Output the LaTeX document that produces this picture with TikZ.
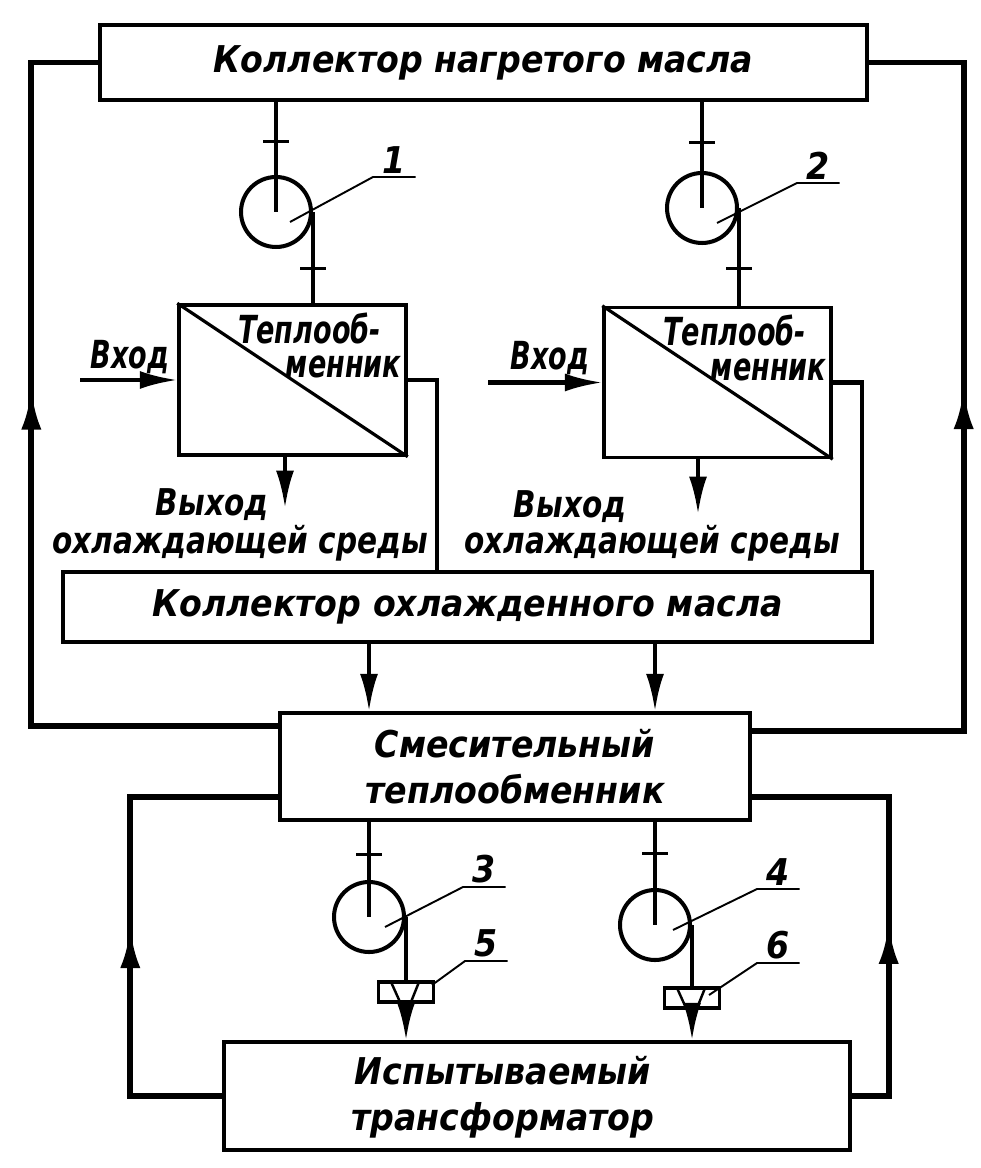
\documentclass[tikz,border=0pt]{standalone}
\usepackage{fontspec}
\setmainfont{DejaVu Sans}
\usetikzlibrary{arrows.meta,calc,decorations.markings}

\begin{document}
\begin{tikzpicture}[
    x=0.02cm, y=-0.02cm,
    >={Latex[length=0.75cm,width=0.36cm]},
    every node/.style={font=\fontsize{21}{26}\selectfont\bfseries\itshape\addfontfeature{FakeStretch=0.9}},
    narrow/.style={font=\fontsize{22}{26}\selectfont\bfseries\itshape\addfontfeature{FakeStretch=0.7}},
    midtext/.style={font=\fontsize{21}{26}\selectfont\bfseries\itshape\addfontfeature{FakeStretch=0.8}},
    box/.style={draw, line width=2pt, inner sep=0pt, align=center},
    pipe/.style={line width=2.3pt},
    loopline/.style={line width=3.4pt},
    leader/.style={line width=1.1pt},
    pump/.style={circle, draw, line width=2.3pt, minimum size=1.4cm, inner sep=0pt},
    valve/.style={draw, fill=white, line width=1.8pt, minimum width=1.1cm, minimum height=0.4cm, inner sep=0pt,
        path picture={\draw[line width=1.4pt]
            ([xshift=-0.3cm]path picture bounding box.north) -- ([xshift=-0.12cm]path picture bounding box.south)
            ([xshift=0.26cm]path picture bounding box.north) -- ([xshift=0.1cm]path picture bounding box.south);}},
    num/.style={anchor=south west, minimum width=0.84cm, inner sep=2pt},
    flow/.style={postaction={decorate}, decoration={markings,
        mark=at position #1 with {\arrow{Latex[length=0.8cm,width=0.4cm]}}}},
    pipetick/.style={postaction={decorate}, decoration={markings,
        mark=at position #1 with {\draw[line width=1.6pt] (0,-0.26cm) -- (0,0.26cm);}}}
]
    \useasboundingbox (0,0) rectangle (980,1168);

    % Draw the collectors and the boxes
    \node[box, minimum width=15.34cm, minimum height=1.5cm] (hot) at (483.5,62.5) {Коллектор нагретого масла};
    \node[box, minimum width=16.18cm, minimum height=1.4cm] (cold) at (467.5,607) {Коллектор охлажденного масла};
    \node[box, minimum width=9.4cm, minimum height=2.14cm] (mix) at (515,766.5) {Смесительный\\теплообменник};
    \node[box, minimum width=12.52cm, minimum height=2.16cm] (trafo) at (537,1096) {};
    \node[align=center] (trafotext) at (503,1097) {Испытываемый\\трансформатор};

    % Draw the heat exchangers
    \foreach \n/\x/\y in {1/292.5/380, 2/717.5/382.5} {
        \node[box, minimum width=4.54cm, minimum height=3cm] (hx\n) at (\x,\y) {};
        \draw[line width=1.8pt] (hx\n.north west) -- (hx\n.south east);
        \node[narrow] (hxa\n) at ($(hx\n)+(17,-52)$) {Теплооб-};
        \node[narrow] (hxb\n) at ($(hx\n)+(51,-13)$) {менник};
    }

    % Inputs and outputs of the cooling medium
    \coordinate (in1) at (80,380);
    \coordinate (in2) at (488,382.5);
    \coordinate (out1) at (285,508);
    \coordinate (out2) at (698,514);
    \node[narrow] (tin1) at (130,357) {Вход};
    \node[narrow] (tin2) at (550,358) {Вход};
    \node[midtext] (tout1) at (212,505) {Выход};
    \node[midtext] (tmed1) at (240,543) {охлаждающей среды};
    \node[midtext] (tout2) at (570,507) {Выход};
    \node[midtext] (tmed2) at (652,543) {охлаждающей среды};
    \foreach \n in {1,2} {
        \draw[pipe,->] (in\n) -- (in\n -| hx\n.west);
        \draw[pipe,->] (hx\n.south -| out\n) -- (out\n);
        \draw[pipe] (hx\n.east) -- ++(29,0) coordinate (c\n) -- (c\n |- cold.north);
    }

    % Draw the pumps
    \foreach \n/\x/\y in {1/276/212, 2/702/208, 3/369/917, 4/655/925}
        \node[pump] (p\n) at (\x,\y) {};

    \draw[pipe, pipetick=0.36] (hot.south -| p1) -- (p1.center);
    \draw[pipe, pipetick=0.38] (hot.south -| p2) -- (p2.center);
    \draw[pipe, pipetick=0.62] (p1.east) -- (p1.east |- hx1.north);
    \draw[pipe, pipetick=0.62] (p2.east) -- (p2.east |- hx2.north);
    \draw[pipe, pipetick=0.34] (mix.south -| p3) -- (p3.center);
    \draw[pipe, pipetick=0.31] (mix.south -| p4) -- (p4.center);

    % Draw the flow meters
    \node[valve] (v5) at (p3.east |- 0,992) {};
    \node[valve] (v6) at (p4.east |- 0,998) {};
    \draw[pipe] (p3.east) -- (v5.north);
    \draw[pipe] (p4.east) -- (v6.north);
    \draw[pipe,->] (v5.south) -- (v5.south |- trafo.north);
    \draw[pipe,->] (v6.south) -- (v6.south |- trafo.north);

    % Cold collector to the mixing heat exchanger
    \draw[pipe,->] (cold.south -| p3) -- (mix.north -| p3);
    \draw[pipe,->] (cold.south -| p4) -- (mix.north -| p4);

    % Return loops
    \draw[loopline, flow=0.597] ($(mix.north west)+(0,15)$) -| ($(hot.west)+(-67,0)$) -- (hot.west);
    \draw[loopline, flow=0.568] ($(mix.north east)+(0,20)$) -| ($(hot.east)+(95,0)$) -- (hot.east);
    \draw[loopline, flow=0.482] (trafo.west) -| ($(mix.south west)+(-148,-25)$) -- ($(mix.south west)+(0,-25)$);
    \draw[loopline, flow=0.442] (trafo.east) -| ($(mix.south east)+(137,-25)$) -- ($(mix.south east)+(0,-25)$);

    % Position numbers
    \node[num] (l1) at (373,177) {1};
    \node[num] (l2) at (797,183) {2};
    \node[num] (l3) at (463,887) {3};
    \node[num] (l4) at (757,889) {4};
    \node[num] (l5) at (465,961) {5};
    \node[num] (l6) at (757,963) {6};
    \draw[leader] ($(p1)+(14,10)$) -- (l1.south west) -- (l1.south east);
    \draw[leader] ($(p2)+(15,15)$) -- (l2.south west) -- (l2.south east);
    \draw[leader] ($(p3)+(16,10)$) -- (l3.south west) -- (l3.south east);
    \draw[leader] ($(p4)+(18,5)$) -- (l4.south west) -- (l4.south east);
    \draw[leader] ($(v5)+(26,-7)$) -- (l5.south west) -- (l5.south east);
    \draw[leader] ($(v6)+(17,-3)$) -- (l6.south west) -- (l6.south east);
\end{tikzpicture}
\end{document}
